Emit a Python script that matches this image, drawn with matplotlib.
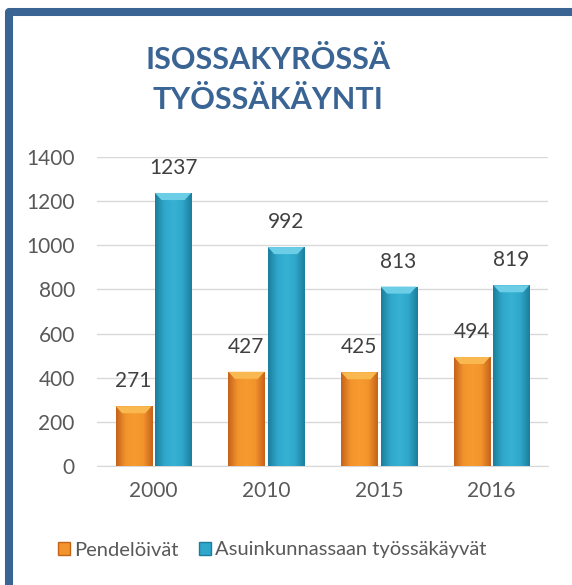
import matplotlib.pyplot as plt
import numpy as np
from matplotlib.lines import Line2D
from matplotlib.patches import Patch
from matplotlib.colors import LinearSegmentedColormap

years = ['2000', '2010', '2015', '2016']
pendeloivat = [271, 427, 425, 494]
asuinkunnassa = [1237, 992, 813, 819]
series_names = ['Pendelöivät', 'Asuinkunnassaan työssäkäyvät']
title = 'ISOSSAKYRÖSSÄ\nTYÖSSÄKÄYNTI'

plt.rcParams['font.family'] = ['Lato', 'DejaVu Sans']

fig = plt.figure(figsize=(5.72, 5.85), dpi=100)

# dark blue frame, cut off on the right and bottom like the original
fx = 9 / 572
fy = 1 - 11.5 / 585
fig.add_artist(Line2D([fx, fx, 1.1], [-0.1, fy, fy], transform=fig.transFigure,
                      color='#3A6494', linewidth=5.8, solid_joinstyle='round',
                      zorder=0))

fig.text(268 / 572, 1 - 80 / 585, title, ha='center', va='center',
         fontsize=22, fontweight='bold', color='#3A6494', linespacing=1.55)

ax = fig.add_axes([97 / 572, 1 - 466 / 585, 451 / 572, 309 / 585])

x = np.arange(len(years))
w = 0.32
gap = 0.03

orange = LinearSegmentedColormap.from_list('o', ['#C4631A', '#F2932C', '#F79C30', '#F2932C', '#C4631A'])
blue = LinearSegmentedColormap.from_list('b', ['#1C7E9E', '#2EA7CA', '#38B2D4', '#2EA7CA', '#1C7E9E'])

b1 = ax.bar(x - w / 2 - gap / 2, pendeloivat, w, color='#F2932C', zorder=2)
b2 = ax.bar(x + w / 2 + gap / 2, asuinkunnassa, w, color='#2EA7CA', zorder=2)

grad = np.linspace(0, 1, 64).reshape(1, -1)
for bars, cmap, top in [(b1, orange, '#FAB850'), (b2, blue, '#6BCDE6')]:
    for b in bars:
        x0, y0 = b.get_x(), b.get_y()
        bw, bh = b.get_width(), b.get_height()
        im = ax.imshow(grad, cmap=cmap, aspect='auto', zorder=3,
                       extent=[x0, x0 + bw, y0, y0 + bh])
        im.set_clip_path(b)
        # light bevel on the top of the bar
        ax.fill([x0, x0 + bw, x0 + bw * 0.82, x0 + bw * 0.18],
                [bh, bh, bh - 32, bh - 32], color=top, zorder=4, lw=0)

for bars, vals in [(b1, pendeloivat), (b2, asuinkunnassa)]:
    for b, v in zip(bars, vals):
        ax.annotate(str(v), (b.get_x() + b.get_width() / 2, v),
                    xytext=(0, 18), textcoords='offset points',
                    ha='center', va='center', fontsize=15, color='#404040')

ax.set_ylim(0, 1400)
ax.set_xlim(-0.5, 3.5)
ax.set_yticks(range(0, 1401, 200))
ax.set_xticks(x)
ax.set_xticklabels(years)
ax.grid(axis='y', color='#D9D9D9', linewidth=1, zorder=0)
ax.set_axisbelow(True)
for s in ['top', 'right', 'left']:
    ax.spines[s].set_visible(False)
ax.spines['bottom'].set_color('#D9D9D9')
ax.tick_params(length=0, labelsize=15, labelcolor='#595959')
ax.tick_params(axis='y', pad=16)
ax.tick_params(axis='x', pad=11)

handles = [Patch(facecolor='#F2932C', edgecolor='#C4631A'),
           Patch(facecolor='#2EA7CA', edgecolor='#1C7E9E')]
fig.legend(handles, series_names, loc='center', ncol=2,
           bbox_to_anchor=(272 / 572, 1 - 550 / 585), frameon=False,
           fontsize=14.5, labelcolor='#595959', handlelength=0.6,
           handleheight=0.6, handletextpad=0.2, columnspacing=1.0)

fig.savefig('out.png', dpi=100)
